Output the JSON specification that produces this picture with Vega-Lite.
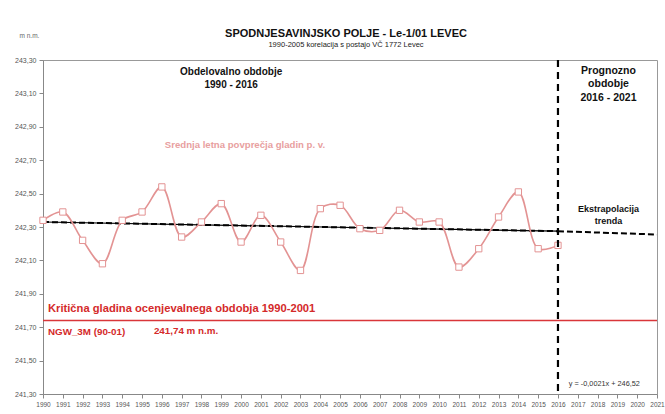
{
  "$schema": "https://vega.github.io/schema/vega-lite/v6.json",
  "width": 614,
  "height": 334,
  "autosize": "none",
  "padding": {"left": 43, "top": 60, "right": 8, "bottom": 20},
  "background": "white",
  "title": {
    "text": "SPODNJESAVINJSKO POLJE - Le-1/01 LEVEC",
    "subtitle": "1990-2005 korelacija s postajo VČ 1772 Levec",
    "anchor": "middle",
    "frame": "group",
    "font": "Liberation Sans",
    "fontSize": 11,
    "fontWeight": "bold",
    "color": "#111",
    "subtitleFont": "Liberation Sans",
    "subtitleFontSize": 7.5,
    "subtitleColor": "#222",
    "subtitlePadding": 2,
    "offset": -16,
    "dx": -4
  },
  "config": {
    "font": "Liberation Sans",
    "view": {"stroke": "#999", "strokeWidth": 1},
    "axis": {"grid": false, "domainColor": "#888", "tickColor": "#888", "labelColor": "#555", "labelFontSize": 7, "labelFont": "Liberation Sans", "tickSize": 4, "labelOverlap": false, "labelBound": false, "labelFlush": false}
  },
  "datasets": {
    "levels": [
      {"year": 1990, "value": 242.34},
      {"year": 1991, "value": 242.39},
      {"year": 1992, "value": 242.22},
      {"year": 1993, "value": 242.08},
      {"year": 1994, "value": 242.34},
      {"year": 1995, "value": 242.39},
      {"year": 1996, "value": 242.54},
      {"year": 1997, "value": 242.24},
      {"year": 1998, "value": 242.33},
      {"year": 1999, "value": 242.44},
      {"year": 2000, "value": 242.21},
      {"year": 2001, "value": 242.37},
      {"year": 2002, "value": 242.21},
      {"year": 2003, "value": 242.04},
      {"year": 2004, "value": 242.41},
      {"year": 2005, "value": 242.43},
      {"year": 2006, "value": 242.29},
      {"year": 2007, "value": 242.28},
      {"year": 2008, "value": 242.40},
      {"year": 2009, "value": 242.33},
      {"year": 2010, "value": 242.33},
      {"year": 2011, "value": 242.06},
      {"year": 2012, "value": 242.17},
      {"year": 2013, "value": 242.36},
      {"year": 2014, "value": 242.51},
      {"year": 2015, "value": 242.17},
      {"year": 2016, "value": 242.19}
    ],
    "trend": [
      {"year": 1990, "value": 242.33, "part": "fit"},
      {"year": 2016, "value": 242.275, "part": "fit"},
      {"year": 2016, "value": 242.275, "part": "ext"},
      {"year": 2021, "value": 242.255, "part": "ext"}
    ],
    "critical": [
      {"year": 1990, "value": 241.74},
      {"year": 2021, "value": 241.74}
    ],
    "one": [{"k": 1}]
  },
  "layer": [
    {
      "data": {"name": "critical"},
      "mark": {"type": "line", "color": "#d9363a", "strokeWidth": 1.5},
      "encoding": {
        "x": {"field": "year", "type": "quantitative", "scale": {"domain": [1990, 2021], "nice": false, "zero": false},
          "axis": {"title": null, "tickCount": 64, "values": [1990,1991,1992,1993,1994,1995,1996,1997,1998,1999,2000,2001,2002,2003,2004,2005,2006,2007,2008,2009,2010,2011,2012,2013,2014,2015,2016,2017,2018,2019,2020,2021], "format": "d", "labelFontSize": 6.5, "labelPadding": 3, "labelOverlap": false}},
        "y": {"field": "value", "type": "quantitative", "scale": {"domain": [241.3, 243.3], "nice": false, "zero": false},
          "axis": {"title": "m n.m.", "titleAngle": 0, "titleAlign": "left", "titleBaseline": "middle", "titleX": -24, "titleY": -25, "titleFontSize": 6.5, "titleFontWeight": "normal", "titleColor": "#666", "tickCount": 30,
            "values": [241.3,241.5,241.7,241.9,242.1,242.3,242.5,242.7,242.9,243.1,243.3], "labelExpr": "replace(format(datum.value, '.2f'), '.', ',')", "labelPadding": 3, "labelOverlap": false}}
      }
    },
    {
      "data": {"name": "trend"},
      "transform": [{"filter": "datum.part == 'fit'"}],
      "mark": {"type": "line", "color": "#000", "strokeWidth": 1.2},
      "encoding": {"x": {"field": "year", "type": "quantitative"}, "y": {"field": "value", "type": "quantitative"}}
    },
    {
      "data": {"name": "trend"},
      "mark": {"type": "line", "color": "#000", "strokeWidth": 2, "strokeDash": [6, 3]},
      "encoding": {"x": {"field": "year", "type": "quantitative"}, "y": {"field": "value", "type": "quantitative"}, "detail": {"field": "part"}}
    },
    {
      "data": {"name": "levels"},
      "mark": {"type": "line", "color": "#e39393", "strokeWidth": 1.6, "interpolate": "catmull-rom"},
      "encoding": {"x": {"field": "year", "type": "quantitative"}, "y": {"field": "value", "type": "quantitative"}}
    },
    {
      "data": {"name": "levels"},
      "mark": {"type": "point", "shape": "square", "size": 40, "filled": true, "fill": "white", "stroke": "#e39393", "strokeWidth": 1, "opacity": 1},
      "encoding": {"x": {"field": "year", "type": "quantitative"}, "y": {"field": "value", "type": "quantitative"}}
    },
    {
      "data": {"name": "one"},
      "mark": {"type": "rule", "color": "#000", "strokeWidth": 2.2, "strokeDash": [7, 5]},
      "encoding": {"x": {"datum": 2016, "type": "quantitative"}}
    },
    {
      "data": {"name": "one"},
      "mark": {"type": "text", "text": ["Obdelovalno obdobje", "1990 - 2016"], "fontSize": 10, "fontWeight": "bold", "color": "#111", "align": "center", "baseline": "top", "lineHeight": 13},
      "encoding": {"x": {"datum": 1999.5, "type": "quantitative"}, "y": {"datum": 243.26, "type": "quantitative"}}
    },
    {
      "data": {"name": "one"},
      "mark": {"type": "text", "text": ["Prognozno", "obdobje", "2016 - 2021"], "fontSize": 10.5, "fontWeight": "bold", "color": "#111", "align": "center", "baseline": "top", "lineHeight": 13.5},
      "encoding": {"x": {"datum": 2018.55, "type": "quantitative"}, "y": {"datum": 243.265, "type": "quantitative"}}
    },
    {
      "data": {"name": "one"},
      "mark": {"type": "text", "text": "Srednja letna povprečja gladin p. v.", "fontSize": 9.6, "fontWeight": "bold", "color": "#e8a0a0", "align": "left", "baseline": "middle"},
      "encoding": {"x": {"datum": 1996.15, "type": "quantitative"}, "y": {"datum": 242.793, "type": "quantitative"}}
    },
    {
      "data": {"name": "one"},
      "mark": {"type": "text", "text": ["Ekstrapolacija", "trenda"], "fontSize": 9, "fontWeight": "bold", "color": "#111", "align": "center", "baseline": "top", "lineHeight": 11.5},
      "encoding": {"x": {"datum": 2018.55, "type": "quantitative"}, "y": {"datum": 242.43, "type": "quantitative"}}
    },
    {
      "data": {"name": "one"},
      "mark": {"type": "text", "text": "Kritična gladina ocenjevalnega obdobja 1990-2001", "fontSize": 11.2, "fontWeight": "bold", "color": "#d42a2a", "align": "left", "baseline": "middle"},
      "encoding": {"x": {"datum": 1990.25, "type": "quantitative"}, "y": {"datum": 241.807, "type": "quantitative"}}
    },
    {
      "data": {"name": "one"},
      "mark": {"type": "text", "text": "NGW_3M  (90-01)", "fontSize": 9.8, "fontWeight": "bold", "color": "#d42a2a", "align": "left", "baseline": "middle"},
      "encoding": {"x": {"datum": 1990.25, "type": "quantitative"}, "y": {"datum": 241.67, "type": "quantitative"}}
    },
    {
      "data": {"name": "one"},
      "mark": {"type": "text", "text": "241,74  m  n.m.", "fontSize": 9.8, "fontWeight": "bold", "color": "#d42a2a", "align": "left", "baseline": "middle"},
      "encoding": {"x": {"datum": 1995.6, "type": "quantitative"}, "y": {"datum": 241.675, "type": "quantitative"}}
    },
    {
      "data": {"name": "one"},
      "mark": {"type": "text", "text": "y = -0,0021x + 246,52", "fontSize": 7.3, "color": "#333", "align": "left", "baseline": "middle"},
      "encoding": {"x": {"datum": 2016.55, "type": "quantitative"}, "y": {"datum": 241.36, "type": "quantitative"}}
    }
  ]
}
